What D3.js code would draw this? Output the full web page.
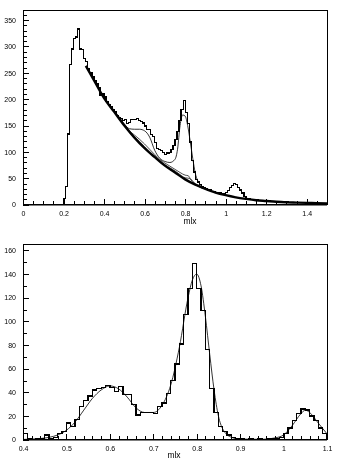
<!DOCTYPE html>
<html><head><meta charset="utf-8">
<script src="https://cdn.jsdelivr.net/npm/d3@7"></script>
<style>
body{margin:0;background:#fff;}
svg{display:block;will-change:transform;}
text{font-family:"Liberation Sans",Arial,Helvetica,sans-serif;fill:#000;}
</style>
</head><body>
<script>
// ---------- data: top panel ----------
const topBinStart = 0.0;
const topBinWidth = 0.01;
const topHist = [
  0,0,0,0,0,0,0,0,0,0, 0,0,0,0,0,0,0,0,0,0,
  11,35,134,266,295,315,318,333,295,294, 277,271,258,250,243,236,229,222,207,210,
  204,195,189,185,180,177,169,165,163,160, 162,154,156,162,162,162,163,160,157,155,
  149,143,143,133,130,118,106,105,102,99, 95,98,99,104,112,124,138,160,180,198,
  175,154,119,84,62,48,43,38,35,32, 30,28,28,25,25,23,23,22,21,21,
  23,27,32,37,40,39,33,28,22,16, 12,11,10,10,9,9,8,8,8,7,
  7,7,6,6,6,6,5,5,5,5, 5,4,4,4,4,4,4,4,4,4,
  3,3,3,3,3,3,3,3,3,3
];
const bgX = [0.31,0.35,0.40,0.45,0.50,0.55,0.60,0.65,0.70,0.75,0.80,0.85,0.90,0.95,1.00,1.05,1.10,1.15,1.20,1.25,1.30,1.35,1.40,1.45,1.50];
const bgY = [263,236,202,176,150,127,107,90,74,61,48,38,30,23,18,14,11,8.5,7,5.5,4.5,4,3.5,3,2.5];

const fit1X = [0.45,0.475,0.50,0.525,0.55,0.575,0.60,0.625,0.65,0.675,0.70,0.725,0.75,0.7625,0.775,0.7875,0.80,0.8125,0.825,0.8375,0.85,0.875,0.90,0.95];
const fit1Y = [177,166,153,144,143,143,140,128,103,88,82,80,86,105,150,170,168,150,120,88,60,38,31,23];
const fit2X = [0.48,0.50,0.525,0.55,0.575,0.60,0.625,0.65,0.675,0.70,0.725,0.75,0.775,0.80,0.815,0.825,0.85,0.875,0.90];
const fit2Y = [160,150,140,132,124,115,105,95,86,79,73,67,61,56,55,50,40,34,30];
const fit3X = [0.50,0.525,0.55,0.575,0.60,0.625,0.65,0.675,0.70,0.725,0.75,0.775,0.80,0.82,0.84,0.86,0.88,0.90];
const fit3Y = [150,139,129,120,110,101,92,84,76,70,64,57,51,50,42,36,32,30];
const topXTicks = [0,0.2,0.4,0.6,0.8,1.0,1.2,1.4];
const topXLabels = ["0","0.2","0.4","0.6","0.8","1","1.2","1.4"];
const topYTicks = [0,50,100,150,200,250,300,350];
const topYLabels = ["0","50","100","150","200","250","300","350"];

// ---------- data: bottom panel ----------
const botBinStart = 0.40;
const botBinWidth = 0.01;
const botHist = [
  5,1,0,1,1,4,1,2,5,7,
  14,11,17,28,33,37,42,43,44,46,
  44,41,45,38,38,30,21,23,23,23,
  22,28,31,39,50,64,81,106,128,149,
  128,109,76,43,23,11,7,4,2,1,
  1,0,1,0,1,0,1,1,1,2,
  5,10,16,22,26,25,20,16,10,5
];
const botFitX = [0.40,0.42,0.44,0.46,0.48,0.50,0.52,0.54,0.56,0.58,0.60,0.62,0.64,0.66,0.68,0.70,0.72,0.74,0.76,0.78,0.79,0.80,0.81,0.82,0.83,0.84,0.85,0.86,0.88,0.90,0.95,0.98,1.00,1.02,1.04,1.05,1.06,1.08,1.10];
const botFitY = [0.2,0.5,1,2,4,8,15,25,35,42,45.5,43,36,27,23,23,29,46,78,120,135,140,130,104,72,42,20,9,2,0.5,0.3,1.5,4,12,22,25,23,14,5];
const botXTicks = [0.4,0.5,0.6,0.7,0.8,0.9,1.0,1.1];
const botXLabels = ["0.4","0.5","0.6","0.7","0.8","0.9","1","1.1"];
const botYTicks = [0,20,40,60,80,100,120,140,160];
const botYLabels = ["0","20","40","60","80","100","120","140","160"];
const axisTitle = "mlx";

// ---------- drawing ----------
const svg = d3.select("body").append("svg").attr("width",352).attr("height",470);

function stepPoints(start, width, vals){
  const pts = [[start,0]];
  vals.forEach((v,i)=>{ pts.push([start+i*width, v]); pts.push([start+(i+1)*width, v]); });
  pts.push([start+vals.length*width, 0]);
  return pts;
}

function panel(cfg){
  const x = d3.scaleLinear().domain(cfg.xdom).range([23,327]);
  const y = d3.scaleLinear().domain(cfg.ydom).range([cfg.bottom, cfg.top]);
  const g = svg.append("g");
  const clipId = "clip"+cfg.id;
  svg.append("clipPath").attr("id",clipId).append("rect")
     .attr("x",23).attr("y",cfg.top).attr("width",304).attr("height",cfg.bottom-cfg.top);

  const fmtNone = () => "";
  g.append("g").attr("transform",`translate(0,${cfg.bottom})`)
    .call(d3.axisBottom(x).tickValues(cfg.xMinor).tickSize(-3.5).tickFormat(fmtNone))
    .call(a=>a.select(".domain").remove());
  g.append("g").attr("transform",`translate(23,0)`)
    .call(d3.axisLeft(y).tickValues(cfg.yMinor).tickSize(-3.5).tickFormat(fmtNone))
    .call(a=>a.select(".domain").remove());
  const ax = g.append("g").attr("transform",`translate(0,${cfg.bottom})`)
    .call(d3.axisBottom(x).tickValues(cfg.xTicks).tickSize(-6).tickPadding(6)
      .tickFormat((d,i)=>cfg.xLabels[i]));
  ax.select(".domain").remove();
  const ay = g.append("g").attr("transform",`translate(23,0)`)
    .call(d3.axisLeft(y).tickValues(cfg.yTicks).tickSize(-6).tickPadding(7)
      .tickFormat((d,i)=>cfg.yLabels[i]));
  ay.select(".domain").remove();
  g.selectAll(".tick line").attr("stroke","#000").attr("stroke-width",1).attr("shape-rendering","crispEdges");
  g.selectAll(".tick text").attr("font-size",7).attr("fill","#000")
    .attr("font-family","Liberation Sans, Arial, sans-serif");

  const plot = g.append("g").attr("clip-path",`url(#${clipId})`);
  const line = d3.line().x(d=>x(d[0])).y(d=>y(d[1]));
  const smooth = d3.line().x(d=>x(d[0])).y(d=>y(d[1])).curve(d3.curveMonotoneX);

  (cfg.curves||[]).forEach(c=>{
    plot.append("path").attr("d", smooth(c.xs.map((v,i)=>[v,c.ys[i]])))
      .attr("fill","none").attr("stroke","#000").attr("stroke-width",c.w);
  });
  plot.append("path").attr("d", line(stepPoints(cfg.binStart,cfg.binWidth,cfg.hist)))
    .attr("fill","none").attr("stroke","#000").attr("stroke-width",cfg.histW)
    .attr("shape-rendering","crispEdges");

  g.append("rect").attr("x",23).attr("y",cfg.top).attr("width",304).attr("height",cfg.bottom-cfg.top)
    .attr("fill","none").attr("stroke","#000").attr("stroke-width",1).attr("shape-rendering","crispEdges");
  g.append("line").attr("x1",23).attr("x2",327).attr("y1",cfg.bottom).attr("y2",cfg.bottom)
    .attr("stroke","#000").attr("stroke-width",1.5);

  g.append("text").attr("x",cfg.titleX).attr("y",cfg.titleY).attr("text-anchor","middle")
    .attr("font-size",8.5).attr("fill","#000").text(axisTitle);
}

panel({
  id:"top", xdom:[0,1.5], ydom:[0,369], top:10, bottom:204.7,
  xTicks:topXTicks, xLabels:topXLabels, yTicks:topYTicks, yLabels:topYLabels,
  xMinor:d3.range(0,1.5001,0.05), yMinor:d3.range(0,361,10),
  binStart:topBinStart, binWidth:topBinWidth, hist:topHist, histW:1.2,
  curves:[
    {xs:bgX, ys:bgY, w:2.4},
    {xs:fit1X, ys:fit1Y, w:0.8},
    {xs:fit2X, ys:fit2Y, w:0.7},
    {xs:fit3X, ys:fit3Y, w:0.7}
  ],
  titleX:190, titleY:224
});

panel({
  id:"bot", xdom:[0.4,1.1], ydom:[0,165], top:244.5, bottom:439.7,
  xTicks:botXTicks, xLabels:botXLabels, yTicks:botYTicks, yLabels:botYLabels,
  xMinor:d3.range(0.4,1.1001,0.02), yMinor:d3.range(0,161,10),
  binStart:botBinStart, binWidth:botBinWidth, hist:botHist, histW:1.3,
  curves:[{xs:botFitX, ys:botFitY, w:0.8}],
  titleX:174, titleY:458
});
</script>
</body></html>
